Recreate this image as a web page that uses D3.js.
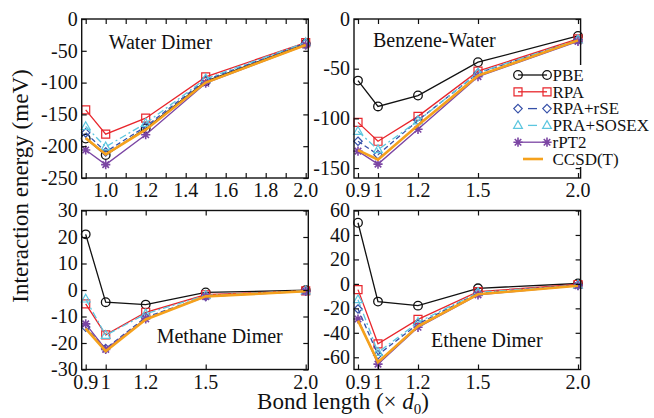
<!DOCTYPE html>
<html>
<head>
<meta charset="utf-8">
<script src="https://cdn.jsdelivr.net/npm/d3@7"></script>
<style>
  body { margin: 0; background: #fff; }
</style>
</head>
<body>
<div id="chart-area"></div>
<script>
// bond lengths (x d0) shared by every panel
const bondLengths = [0.9, 1.0, 1.2, 1.5, 2.0];

const methodNames = ["PBE", "RPA", "RPA+rSE", "PRA+SOSEX", "rPT2", "CCSD(T)"];

// interaction energies, meV, one row per method (same order as methodNames)
const waterDimer = [
  [-188, -214, -172, -98, -39],
  [-143, -181, -156, -91, -37],
  [-179, -209, -169, -96, -38],
  [-169, -201, -164, -94, -37],
  [-206, -229, -182, -101, -41],
  [-187, -213, -174, -100, -41]
];
const benzeneWater = [
  [-62, -88, -77, -43.5, -17],
  [-104, -123, -98, -52.5, -20],
  [-123, -136.5, -102, -54.5, -21],
  [-113, -131.5, -102.5, -54, -21],
  [-133, -146, -111, -58, -22.5],
  [-132, -141.5, -107, -57, -21.5]
];
const methaneDimer = [
  [21, -4.6, -5.5, -0.9, -0.1],
  [-5.2, -16.9, -8.4, -1.8, -0.3],
  [-14, -22.1, -10.3, -2.4, -0.4],
  [-3.4, -17.1, -9, -2, -0.3],
  [-12.8, -22.4, -10.9, -2.5, -0.5],
  [-14.6, -23.1, -11.1, -2.4, -0.5]
];
const etheneDimer = [
  [50, -14.5, -17.8, -3.6, 0.3],
  [-4.7, -49, -29, -6.3, -0.5],
  [-20.5, -58, -32.8, -7.5, -1],
  [-12.9, -56, -31.4, -7, -1],
  [-28.7, -65.6, -35.5, -9, -1.5],
  [-30, -64, -34.7, -8.5, -1.5]
];

// axis ticks
const xTicksFine = [0.9, 1.0, 1.1, 1.2, 1.3, 1.4, 1.5, 1.6, 1.7, 1.8, 1.9, 2.0];
const xLabelsFine = [1.0, 1.2, 1.4, 1.6, 1.8, 2.0];
const xTicksBond = [0.9, 1.0, 1.2, 1.5, 2.0];
const xLabelsBond = ["0.9", "1", "1.2", "1.5", "2.0"];
const yTicksWater = [0, -50, -100, -150, -200, -250];
const yTicksBenzene = [0, -50, -100, -150];
const yTicksMethane = [30, 20, 10, 0, -10, -20, -30];
const yTicksEthene = [60, 40, 20, 0, -20, -40, -60];

const serif = "'Liberation Serif', 'Times New Roman', 'DejaVu Serif', serif";
const totalWidth = 654, totalHeight = 418;
const plotW = 226.6, plotH = 159;

const styles = [
  { color: "#111111", dash: null, marker: "circle", width: 1.3 },
  { color: "#e8262c", dash: null, marker: "square", width: 1.3 },
  { color: "#3650a8", dash: "5,3", marker: "diamond", width: 1.3 },
  { color: "#5cc6df", dash: "7,3,2,3", marker: "triangle", width: 1.3 },
  { color: "#7b45a3", dash: null, marker: "star", width: 1.3 },
  { color: "#f5a11c", dash: null, marker: null, width: 2.6 }
];

const panels = [
  { title: "Water Dimer", data: waterDimer, left: 81.7, top: 19, yDomain: [-250, 0], yTicks: yTicksWater,
    xTicks: xTicksFine, xLabels: xLabelsFine, xFormat: d3.format(".1f"), titleX: 27, titleY: 30 },
  { title: "Benzene-Water", data: benzeneWater, left: 354, top: 19, yDomain: [-160, 0], yTicks: yTicksBenzene,
    xTicks: xTicksBond, xLabels: xTicksBond, xFormat: (d, i) => xLabelsBond[i], titleX: 19, titleY: 27.5 },
  { title: "Methane Dimer", data: methaneDimer, left: 81.7, top: 210.5, yDomain: [-30, 30], yTicks: yTicksMethane,
    xTicks: xTicksBond, xLabels: xTicksBond, xFormat: (d, i) => xLabelsBond[i], titleX: 75, titleY: 132.5 },
  { title: "Ethene Dimer", data: etheneDimer, left: 354, top: 210.5, yDomain: [-70, 60], yTicks: yTicksEthene,
    xTicks: xTicksBond, xLabels: xTicksBond, xFormat: (d, i) => xLabelsBond[i], titleX: 77, titleY: 136 }
];

const svg = d3.select("#chart-area")
  .append("svg")
    .attr("width", totalWidth)
    .attr("height", totalHeight)
    .attr("font-family", serif);

function drawMarker(g, type, x, y, color) {
  if (type === null) return;
  const m = g.append("path")
    .attr("fill", "none")
    .attr("stroke", color)
    .attr("stroke-width", 1.2)
    .attr("transform", "translate(" + x + "," + y + ")");
  if (type === "circle") {
    m.attr("d", d3.arc()({ innerRadius: 0, outerRadius: 4.3, startAngle: 0, endAngle: 2 * Math.PI }))
      .attr("stroke-width", 1.3);
  } else if (type === "square") {
    m.attr("d", "M-4,-4H4V4H-4Z");
  } else if (type === "diamond") {
    m.attr("d", "M0,-4.2L4.2,0L0,4.2L-4.2,0Z");
  } else if (type === "triangle") {
    m.attr("d", "M0,-4.8L4.4,3L-4.4,3Z");
  } else if (type === "star") {
    let d = "";
    for (let k = 0; k < 4; k++) {
      const a = k * Math.PI / 4;
      const dx = 4.6 * Math.cos(a), dy = 4.6 * Math.sin(a);
      d += "M" + (-dx) + "," + (-dy) + "L" + dx + "," + dy;
    }
    m.attr("d", d).attr("stroke-width", 1.6);
  }
}

panels.forEach(p => {
  const g = svg.append("g")
    .attr("transform", "translate(" + p.left + "," + p.top + ")");

  const xScale = d3.scaleLinear().domain([0.88, 2.013]).range([0, plotW]);
  const yScale = d3.scaleLinear().domain(p.yDomain).range([plotH, 0]);

  // series
  const line = d3.line()
    .x((d, i) => xScale(bondLengths[i]))
    .y(d => yScale(d));

  p.data.forEach((values, s) => {
    const st = styles[s];
    g.append("path")
      .datum(values)
      .attr("fill", "none")
      .attr("stroke", st.color)
      .attr("stroke-width", st.width)
      .attr("stroke-dasharray", st.dash)
      .attr("d", line);
    values.forEach((v, i) => drawMarker(g, st.marker, xScale(bondLengths[i]), yScale(v), st.color));
  });

  // ticks, inward on all four sides
  const xAxisBottom = d3.axisBottom(xScale).tickValues(p.xTicks).tickSizeInner(-5).tickSizeOuter(0).tickFormat("");
  const xAxisTop = d3.axisTop(xScale).tickValues(p.xTicks).tickSizeInner(-5).tickSizeOuter(0).tickFormat("");
  const yAxisLeft = d3.axisLeft(yScale).tickValues(p.yTicks).tickSizeInner(-5).tickSizeOuter(0).tickFormat("");
  const yAxisRight = d3.axisRight(yScale).tickValues(p.yTicks).tickSizeInner(-5).tickSizeOuter(0).tickFormat("");

  g.append("g").attr("transform", "translate(0," + plotH + ")").call(xAxisBottom);
  g.append("g").call(xAxisTop);
  g.append("g").call(yAxisLeft);
  g.append("g").attr("transform", "translate(" + plotW + ",0)").call(yAxisRight);
  g.selectAll(".domain").remove();
  g.selectAll(".tick line").attr("stroke", "#111").attr("stroke-width", 1.2);

  // frame
  g.append("rect")
    .attr("width", plotW)
    .attr("height", plotH)
    .attr("fill", "none")
    .attr("stroke", "#111")
    .attr("stroke-width", 1.4);

  // tick labels
  g.selectAll(".xlab")
    .data(p.xLabels)
    .enter().append("text")
      .attr("x", d => xScale(d))
      .attr("y", plotH + 19)
      .attr("text-anchor", "middle")
      .attr("font-size", "20px")
      .attr("fill", "#111")
      .text((d, i) => p.xFormat(d, i));

  g.selectAll(".ylab")
    .data(p.yTicks)
    .enter().append("text")
      .attr("x", -4)
      .attr("y", d => yScale(d))
      .attr("dy", "0.34em")
      .attr("text-anchor", "end")
      .attr("font-size", "20px")
      .attr("fill", "#111")
      .text(d => d);

  // panel title
  g.append("text")
    .attr("x", p.titleX)
    .attr("y", p.titleY)
    .attr("font-size", "20px")
    .attr("fill", "#111")
    .text(p.title);
});

// legend, sitting on a white box over the benzene-water panel
const legend = svg.append("g")
  .attr("transform", "translate(518,75)");

legend.append("rect")
  .attr("x", -5)
  .attr("y", -10)
  .attr("width", 145)
  .attr("height", 102)
  .attr("fill", "#fff");

methodNames.forEach((name, i) => {
  const st = styles[i];
  const row = legend.append("g")
    .attr("transform", "translate(0," + (i * 16.8) + ")");
  const dashed = st.marker === "diamond" || st.marker === "triangle";
  const bare = st.marker === null;
  row.append("line")
    .attr("x1", dashed ? 10 : (bare ? 5 : 0)).attr("x2", dashed ? 19 : (bare ? 25 : 29))
    .attr("y1", 0).attr("y2", 0)
    .attr("stroke", st.color)
    .attr("stroke-width", st.width);
  drawMarker(row, st.marker, 0, 0, st.color);
  drawMarker(row, st.marker, 29, 0, st.color);
  row.append("text")
    .attr("x", 34.5)
    .attr("y", 0)
    .attr("dy", "0.34em")
    .attr("font-size", "17px")
    .attr("fill", "#111")
    .text(name);
});

// axis titles
svg.append("text")
  .attr("transform", "translate(28,186) rotate(-90)")
  .attr("text-anchor", "middle")
  .attr("font-size", "23px")
  .attr("fill", "#111")
  .text("Interaction energy (meV)");

const xTitle = svg.append("text")
  .attr("x", 343)
  .attr("y", 409)
  .attr("text-anchor", "middle")
  .attr("font-size", "23px")
  .attr("fill", "#111");
xTitle.append("tspan").text("Bond length (\u00d7 ");
xTitle.append("tspan").attr("font-style", "italic").text("d");
xTitle.append("tspan").attr("font-size", "15px").attr("dy", 5).text("0");
xTitle.append("tspan").attr("dy", -5).text(")");
</script>
</body>
</html>
